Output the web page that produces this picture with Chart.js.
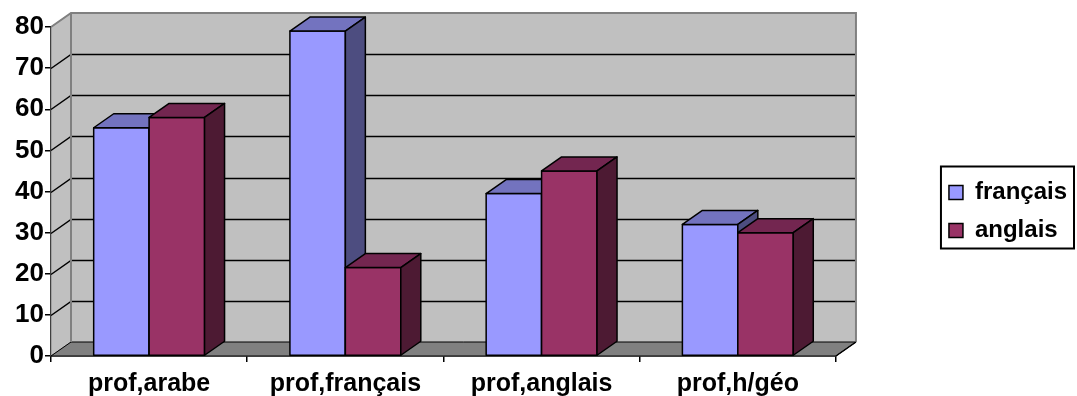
<!DOCTYPE html>
<html>
<head>
<meta charset="utf-8">
<script src="https://cdn.jsdelivr.net/npm/chart.js@4.4.0/dist/chart.umd.min.js"></script>
<style>
  html, body { margin: 0; padding: 0; background: #fff; }
  #wrap { width: 1077px; height: 396px; }
</style>
</head>
<body>
<div id="wrap"><canvas id="chart" width="1077" height="396"></canvas></div>
<script>
const categories = ['prof,arabe', 'prof,français', 'prof,anglais', 'prof,h/géo'];
const francais = [55.5, 79, 39.5, 32];
const anglais = [58, 21.5, 45, 30];
const yTicks = [0, 10, 20, 30, 40, 50, 60, 70, 80];

// depth of the fake 3D look
const DX = 20, DY = -14;
const FONT = "'Liberation Sans', Arial, sans-serif";

const faces = [
  { front: '#9999FF', top: '#7373BF', side: '#4D4D80' },
  { front: '#993366', top: '#732650', side: '#4D1A33' }
];

function poly(ctx, pts, fill) {
  ctx.beginPath();
  ctx.moveTo(pts[0][0], pts[0][1]);
  for (let i = 1; i < pts.length; i++) ctx.lineTo(pts[i][0], pts[i][1]);
  ctx.closePath();
  if (fill) { ctx.fillStyle = fill; ctx.fill(); }
  ctx.stroke();
}

/*
 Walls, floor and gridlines drawn behind the bars
*/
const walls = {
  id: 'walls',
  beforeDatasetsDraw(chart) {
    const ctx = chart.ctx;
    const a = chart.chartArea;
    const y = chart.scales.y;
    ctx.save();
    ctx.lineWidth = 1;
    // back wall
    ctx.strokeStyle = '#808080';
    ctx.fillStyle = '#C0C0C0';
    ctx.fillRect(a.left + DX, a.top + DY, a.right - a.left, a.bottom - a.top);
    // side wall
    poly(ctx, [[a.left, a.top], [a.left + DX, a.top + DY], [a.left + DX, a.bottom + DY], [a.left, a.bottom]], '#C0C0C0');
    // floor
    ctx.strokeStyle = '#000';
    poly(ctx, [[a.left, a.bottom], [a.left + DX, a.bottom + DY], [a.right + DX, a.bottom + DY], [a.right, a.bottom]], '#808080');
    // gridlines
    ctx.strokeStyle = '#000';
    ctx.lineWidth = 1.5;
    yTicks.forEach(v => {
      if (v === 0 || v === 80) return;
      const py = Math.round(y.getPixelForValue(v)) + 0.5;
      ctx.beginPath();
      ctx.moveTo(a.left, py);
      ctx.lineTo(a.left + DX, py + DY);
      ctx.lineTo(a.right + DX, py + DY);
      ctx.stroke();
    });
    // wall outline
    ctx.strokeStyle = '#808080';
    ctx.lineWidth = 2;
    ctx.beginPath();
    ctx.moveTo(a.left, a.top);
    ctx.lineTo(a.left + DX, a.top + DY);
    ctx.lineTo(a.right + DX, a.top + DY);
    ctx.lineTo(a.right + DX, a.bottom + DY);
    ctx.moveTo(a.left + DX, a.top + DY);
    ctx.lineTo(a.left + DX, a.bottom + DY);
    ctx.stroke();
    ctx.strokeStyle = '#000';
    ctx.lineWidth = 1.5;
    ctx.beginPath();
    ctx.moveTo(a.right, a.bottom);
    ctx.lineTo(a.right + DX, a.bottom + DY);
    ctx.stroke();
    ctx.restore();
  }
};

/*
 Redraw every bar as a box: front, top and side
*/
const boxes = {
  id: 'boxes',
  afterDatasetsDraw(chart) {
    const ctx = chart.ctx;
    ctx.save();
    ctx.strokeStyle = '#000';
    ctx.lineWidth = 1.5;
    ctx.lineJoin = 'round';
    for (let i = 0; i < categories.length; i++) {
      chart.data.datasets.forEach((ds, d) => {
        const bar = chart.getDatasetMeta(d).data[i];
        const l = bar.x - bar.width / 2, r = bar.x + bar.width / 2;
        const t = bar.y, b = bar.base;
        const c = faces[d];
        poly(ctx, [[l, t], [r, t], [r, b], [l, b]], c.front);
        poly(ctx, [[l, t], [l + DX, t + DY], [r + DX, t + DY], [r, t]], c.top);
        poly(ctx, [[r, t], [r + DX, t + DY], [r + DX, b + DY], [r, b]], c.side);
      });
    }
    ctx.restore();
  },
  afterDraw(chart) {
    const lg = chart.legend;
    if (!lg || !lg.legendHitBoxes.length) return;
    const hb = lg.legendHitBoxes;
    const ctx = chart.ctx;
    const left = hb[0].left - 8;
    const top = hb[0].top - 14;
    const right = Math.max(...hb.map(h => h.left + h.width)) + 7;
    const bottom = hb[hb.length - 1].top + hb[hb.length - 1].height + 6;
    ctx.save();
    ctx.strokeStyle = '#000';
    ctx.lineWidth = 2;
    ctx.strokeRect(left, top, right - left, bottom - top);
    ctx.restore();
  }
};

new Chart(document.getElementById('chart'), {
  type: 'bar',
  data: {
    labels: categories,
    datasets: [
      { label: 'français', data: francais, backgroundColor: faces[0].front, borderColor: '#000', borderWidth: 1.5 },
      { label: 'anglais', data: anglais, backgroundColor: faces[1].front, borderColor: '#000', borderWidth: 1.5 }
    ]
  },
  options: {
    responsive: false,
    animation: false,
    layout: { padding: { top: 27, left: 0, right: 0, bottom: 0 } },
    datasets: { bar: { categoryPercentage: 0.565, barPercentage: 1 } },
    plugins: {
      tooltip: { enabled: false },
      legend: {
        position: 'right',
        labels: {
          color: '#000',
          font: { family: FONT, size: 24, weight: 'bold' },
          boxWidth: 14,
          boxHeight: 14,
          padding: 14
        }
      }
    },
    scales: {
      x: {
        afterFit(s) { s.height = 40; },
        grid: { drawOnChartArea: false, drawTicks: true, tickLength: 6, color: '#000', lineWidth: 1.5, offset: true },
        border: { color: '#000', width: 1.5 },
        ticks: { color: '#000', padding: 7, font: { family: FONT, size: 25, weight: 'bold' } }
      },
      y: {
        min: 0,
        max: 80,
        afterFit(s) { s.width = 51; },
        grid: { drawOnChartArea: false, drawTicks: true, tickLength: 6, color: '#000', lineWidth: 1.5 },
        border: { color: '#000', width: 1.5 },
        ticks: { stepSize: 10, color: '#000', padding: 1, font: { family: FONT, size: 26, weight: 'bold' } }
      },
      gap: {
        type: 'linear',
        position: 'right',
        afterFit(s) { s.width = 99; },
        grid: { display: false },
        border: { display: false },
        ticks: { display: false }
      }
    }
  },
  plugins: [walls, boxes]
});
</script>
</body>
</html>
